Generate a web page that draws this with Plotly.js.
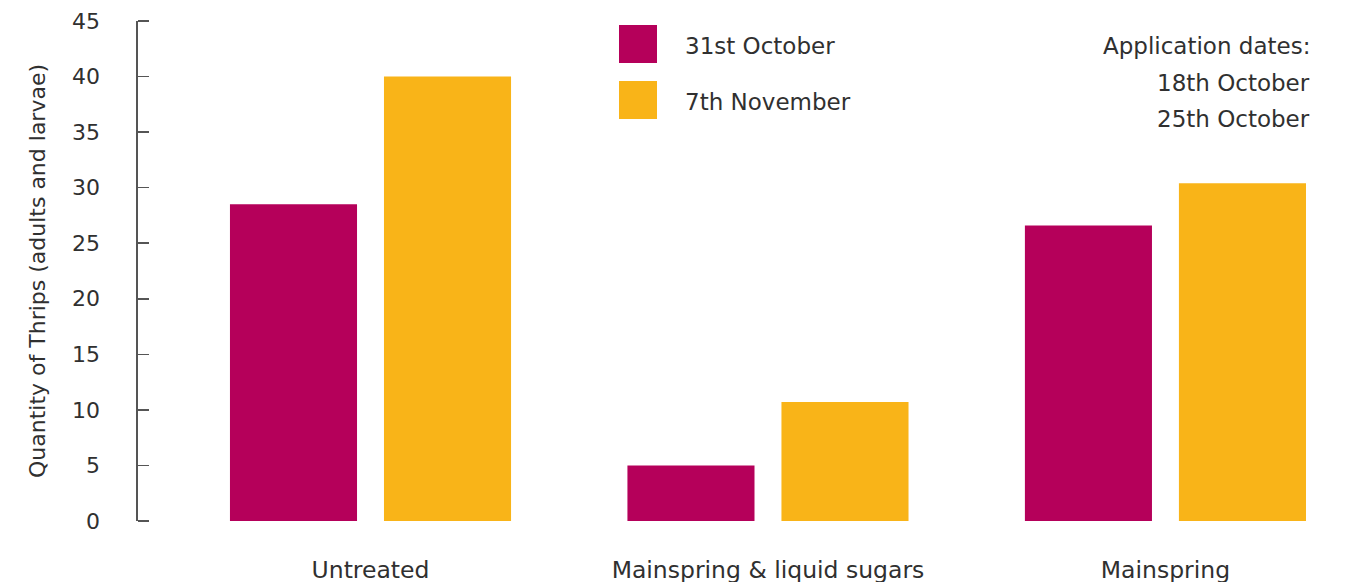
<!DOCTYPE html>
<html>
<head>
<meta charset="utf-8">
<script src="https://cdn.plot.ly/plotly-3.0.1.min.js"></script>
<style>html,body{margin:0;padding:0;background:#fff;}#chart{width:1348px;height:582px;}</style>
</head>
<body>
<div id="chart"></div>
<script>
const categories = ["Untreated", "Mainspring &amp; liquid sugars", "Mainspring"];
const seriesNames = ["31st October", "7th November"];
const oct31 = [28.5, 5.0, 26.6];
const nov7 = [40.0, 10.7, 30.4];
const yTicks = [0, 5, 10, 15, 20, 25, 30, 35, 40, 45];
const noteLines = ["Application dates:", "18th October", "25th October"];
const colors = ["#B5005A", "#F9B418"];

const W = 1348, H = 582;
const M = {l: 136, r: 18, t: 21, b: 61};
const pw = W - M.l - M.r, ph = H - M.t - M.b;
const px = x => (x - M.l) / pw;
const py = y => (H - M.b - y) / ph;

const font = "'DejaVu Sans', sans-serif";
const txt = "#303030";

const traces = [
  {type: "bar", name: seriesNames[0], x: categories, y: oct31, marker: {color: colors[0]}, hoverinfo: "skip"},
  {type: "bar", name: seriesNames[1], x: categories, y: nov7, marker: {color: colors[1]}, hoverinfo: "skip"},
  {type: "scatter", mode: "markers", x: [categories[0]], y: [0], yaxis: "y2", marker: {opacity: 0}, hoverinfo: "skip", showlegend: false}
];

const shapes = [], annotations = [];
const legY = [44, 100];
seriesNames.forEach((n, i) => {
  shapes.push({type: "rect", xref: "paper", yref: "paper", x0: px(619), x1: px(657), y0: py(legY[i] - 19), y1: py(legY[i] + 19), fillcolor: colors[i], line: {width: 0}});
  annotations.push({xref: "paper", yref: "paper", x: px(683), y: py(legY[i] + 2), xanchor: "left", yanchor: "middle", text: n, showarrow: false, font: {family: font, size: 23, color: txt}});
});
const noteY = [46, 83, 119];
noteLines.forEach((t, i) => {
  annotations.push({xref: "paper", yref: "paper", x: px(1312), y: py(noteY[i]), xanchor: "right", yanchor: "middle", text: t, showarrow: false, font: {family: font, size: 23, color: txt}});
});

const layout = {
  width: W, height: H,
  margin: M,
  paper_bgcolor: "#fff", plot_bgcolor: "#fff",
  showlegend: false,
  barmode: "group",
  bargap: 0.225,
  bargroupgap: 0.175,
  font: {family: font, color: txt},
  xaxis: {
    type: "category",
    range: [-0.59, 2.414],
    showline: false, showgrid: false, zeroline: false,
    ticks: "",
    tickfont: {family: font, size: 23.5, color: txt},
    ticklabelstandoff: 32,
    automargin: false,
    fixedrange: true
  },
  yaxis: {
    range: [0, 45],
    tickvals: yTicks,
    ticktext: yTicks.map(String),
    showline: false,
    ticks: "",
    showgrid: false, zeroline: false,
    tickfont: {family: font, size: 22, color: txt},
    ticklabelstandoff: 35,
    title: {text: "Quantity of Thrips (adults and larvae)", font: {family: font, size: 22, color: txt}, standoff: 20},
    automargin: false,
    fixedrange: true
  },
  yaxis2: {
    overlaying: "y",
    matches: "y",
    anchor: "free",
    position: 0,
    side: "right",
    range: [0, 45],
    tickvals: yTicks,
    showticklabels: false,
    showline: true, linecolor: "#555", linewidth: 1.5,
    ticks: "outside", ticklen: 11, tickcolor: "#555", tickwidth: 1.5,
    showgrid: false, zeroline: false,
    automargin: false,
    fixedrange: true
  },
  shapes: shapes,
  annotations: annotations
};

Plotly.newPlot("chart", traces, layout, {displayModeBar: false, staticPlot: true});
</script>
</body>
</html>
